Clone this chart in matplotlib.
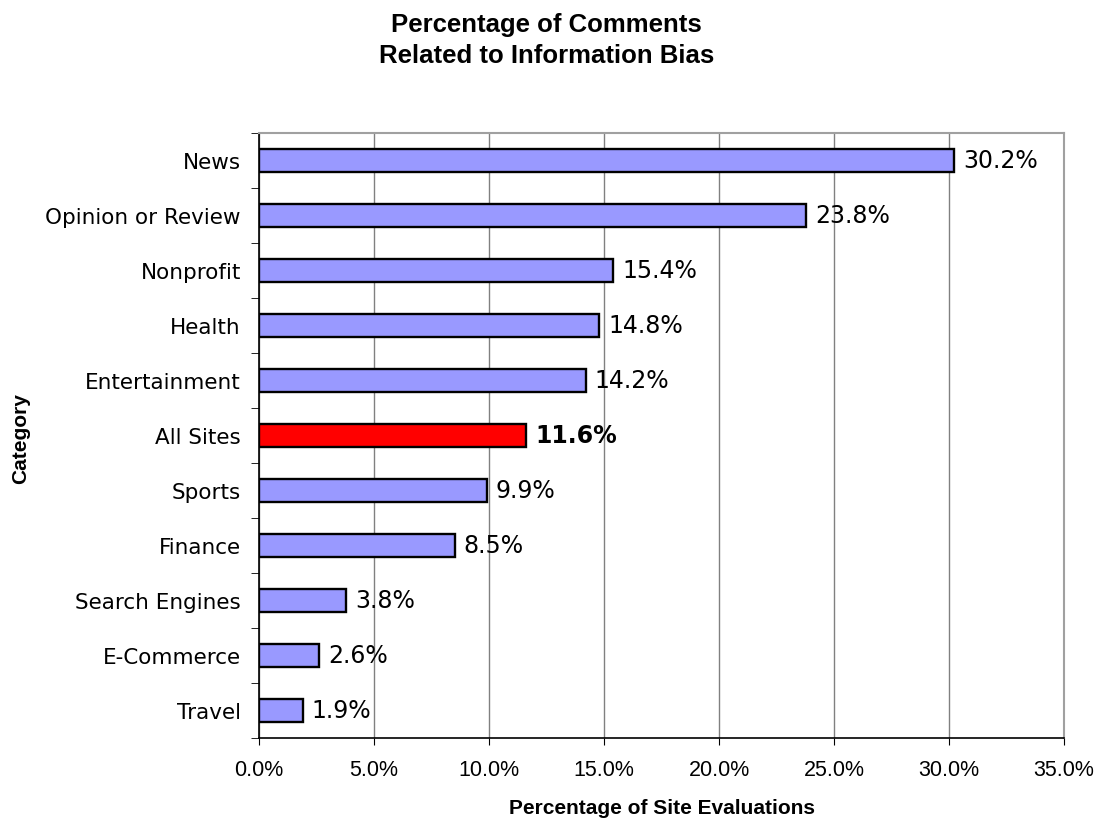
import numpy as np
import matplotlib
matplotlib.use('Agg')
import matplotlib.pyplot as plt

categories = ['News', 'Opinion or Review', 'Nonprofit', 'Health', 'Entertainment',
              'All Sites', 'Sports', 'Finance', 'Search Engines', 'E-Commerce', 'Travel']
values     = [30.2, 23.8, 15.4, 14.8, 14.2, 11.6, 9.9, 8.5, 3.8, 2.6, 1.9]
highlight  = 'All Sites'
xticks     = [0, 5, 10, 15, 20, 25, 30, 35]

fig = plt.figure(figsize=(10.99, 8.2), dpi=100)
ax = fig.add_axes([0.2357, 0.0988, 0.7325, 0.7378])

n = len(categories)
ypos = np.arange(n)[::-1]                  # first category at the top
colors = ['#FF0000' if c == highlight else '#9999FF' for c in categories]

ax.barh(ypos, values, height=0.41, color=colors, edgecolor='black', linewidth=1.7, zorder=3)

# value labels
for y, v, c in zip(ypos, values, categories):
    bold = 'bold' if c == highlight else 'normal'
    ax.text(v + 0.4, y, '%.1f%%' % v, va='center', ha='left', fontsize=17,
            family='DejaVu Sans', fontweight=bold, zorder=4)

ax.set_xlim(0, 35)
ax.set_ylim(-0.5, n - 0.5)
ax.set_xticks(xticks)
ax.set_xticklabels(['%.1f%%' % x for x in xticks], fontsize=15.5, family='Liberation Sans')
ax.tick_params(axis='x', length=5, pad=10)

# category labels between tick marks (Excel style)
ax.set_yticks(ypos)
ax.set_yticklabels(categories, fontsize=15.5, family='DejaVu Sans')
ax.tick_params(axis='y', which='major', length=0, pad=13)
ax.set_yticks(np.arange(-0.5, n, 1.0), minor=True)
ax.tick_params(axis='y', which='minor', length=6)

ax.xaxis.grid(True, color='#808080', linewidth=1.0, zorder=0)
ax.set_axisbelow(True)

for s in ['top', 'right']:
    ax.spines[s].set_color('#A0A0A0')
    ax.spines[s].set_linewidth(1.5)
for s in ['left', 'bottom']:
    ax.spines[s].set_color('black')
    ax.spines[s].set_linewidth(1.2)

ax.set_xlabel('Percentage of Site Evaluations', fontsize=15, fontweight='bold',
              family='Liberation Sans', labelpad=13)
fig.text(0.019, 0.465, 'Category', rotation=90, fontsize=15, fontweight='bold',
         family='Liberation Sans', ha='center', va='center')

fig.text(0.497, 0.951, 'Percentage of Comments\nRelated to Information Bias', ha='center', va='center',
         fontsize=18.5, fontweight='bold', family='Liberation Sans', linespacing=1.35)

plt.savefig('out.png', dpi=100)
